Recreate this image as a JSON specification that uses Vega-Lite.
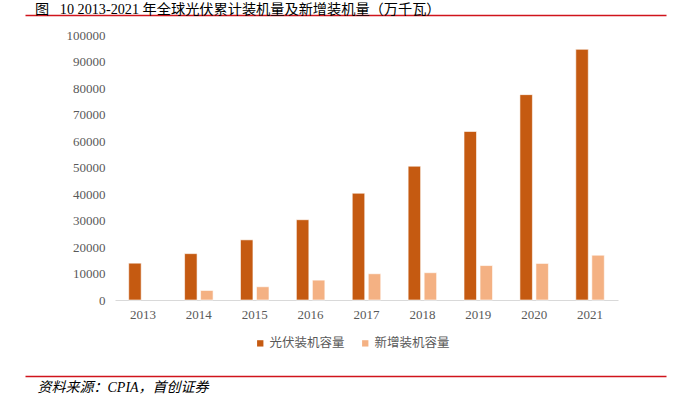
{
  "$schema": "https://vega.github.io/schema/vega-lite/v6.json",
  "width": 641,
  "height": 265,
  "autosize": {"type": "none"},
  "padding": {"left": 25, "top": 35, "right": 7, "bottom": 98},
  "background": "white",
  "config": {"view": {"stroke": null}},
  "title": {
    "text": "图 \u200210 2013-2021 年全球光伏累计装机量及新增装机量（万千瓦）",
    "anchor": "start",
    "frame": "group",
    "dx": 10,
    "offset": -2,
    "font": "Liberation Serif, Noto Sans CJK SC",
    "fontSize": 14.2,
    "fontWeight": "normal",
    "color": "#000000"
  },
  "layer": [
    {
      "data": {
        "values": [
          {"year": "2013", "series": "光伏装机容量", "value": 13900},
          {"year": "2014", "series": "光伏装机容量", "value": 17500},
          {"year": "2015", "series": "光伏装机容量", "value": 22700},
          {"year": "2016", "series": "光伏装机容量", "value": 30300},
          {"year": "2017", "series": "光伏装机容量", "value": 40300},
          {"year": "2018", "series": "光伏装机容量", "value": 50500},
          {"year": "2019", "series": "光伏装机容量", "value": 63600},
          {"year": "2020", "series": "光伏装机容量", "value": 77500},
          {"year": "2021", "series": "光伏装机容量", "value": 94600},
          {"year": "2014", "series": "新增装机容量", "value": 3600},
          {"year": "2015", "series": "新增装机容量", "value": 5000},
          {"year": "2016", "series": "新增装机容量", "value": 7500},
          {"year": "2017", "series": "新增装机容量", "value": 9900},
          {"year": "2018", "series": "新增装机容量", "value": 10300},
          {"year": "2019", "series": "新增装机容量", "value": 13000},
          {"year": "2020", "series": "新增装机容量", "value": 13800},
          {"year": "2021", "series": "新增装机容量", "value": 16900}
        ]
      },
      "mark": {"type": "bar", "stroke": "#ffffff", "strokeWidth": 0.6},
      "encoding": {
        "x": {
          "field": "year",
          "type": "nominal",
          "scale": {"range": [90, 593], "paddingInner": 0.49, "paddingOuter": 0.245},
          "axis": {
            "orient": "bottom",
            "title": null,
            "domain": true,
            "domainColor": "#D9D9D9",
            "domainWidth": 1,
            "ticks": false,
            "grid": false,
            "labelAngle": 0,
            "labelPadding": 8,
            "labelFont": "Liberation Serif",
            "labelFontSize": 13,
            "labelColor": "#595959"
          }
        },
        "xOffset": {
          "field": "series",
          "type": "nominal",
          "sort": ["光伏装机容量", "新增装机容量"],
          "scale": {"paddingInner": 0.22, "paddingOuter": 0}
        },
        "y": {
          "field": "value",
          "type": "quantitative",
          "scale": {"domain": [0, 100000], "nice": false},
          "axis": {
            "orient": "left",
            "offset": -90,
            "title": null,
            "domain": false,
            "ticks": false,
            "grid": false,
            "values": [0, 10000, 20000, 30000, 40000, 50000, 60000, 70000, 80000, 90000, 100000],
            "format": "d",
            "labelPadding": 10,
            "labelFont": "Liberation Serif",
            "labelFontSize": 13,
            "labelColor": "#595959"
          }
        },
        "color": {
          "field": "series",
          "type": "nominal",
          "sort": ["光伏装机容量", "新增装机容量"],
          "scale": {"domain": ["光伏装机容量", "新增装机容量"], "range": ["#C55A11", "#F4B183"]},
          "legend": {
            "orient": "none",
            "legendX": 229,
            "legendY": 302,
            "direction": "horizontal",
            "title": null,
            "symbolType": "square",
            "symbolSize": 40,
            "symbolStrokeWidth": 0,
            "labelFont": "Noto Sans CJK SC",
            "labelFontSize": 12.5,
            "labelColor": "#595959",
            "labelOffset": 3,
            "columnPadding": 14
          }
        }
      }
    },
    {
      "data": {"values": [{"v": 0}]},
      "mark": {"type": "point", "opacity": 0},
      "encoding": {
        "x": {
          "field": "v",
          "type": "quantitative",
          "scale": {"domain": [0, 1]},
          "axis": {
            "orient": "top",
            "offset": 20,
            "title": null,
            "domain": true,
            "domainColor": "#D0141C",
            "domainWidth": 1.5,
            "ticks": false,
            "labels": false,
            "grid": false
          }
        }
      }
    },
    {
      "data": {"values": [{"v": 0}]},
      "mark": {"type": "point", "opacity": 0},
      "encoding": {
        "x": {
          "field": "v",
          "type": "quantitative",
          "scale": {"domain": [0, 1]},
          "axis": {
            "orient": "bottom",
            "offset": 76,
            "title": "资料来源：CPIA，首创证券",
            "titleFont": "Liberation Serif, Noto Sans CJK SC",
            "titleFontSize": 14,
            "titleFontStyle": "italic",
            "titleFontWeight": "normal",
            "titleColor": "#000000",
            "titleAnchor": "start",
            "titleAlign": "left",
            "titleBaseline": "middle",
            "titleX": 12,
            "titleY": 11,
            "domain": true,
            "domainColor": "#D0141C",
            "domainWidth": 1.5,
            "ticks": false,
            "labels": false,
            "grid": false
          }
        }
      }
    }
  ],
  "resolve": {"scale": {"x": "independent"}, "axis": {"x": "independent"}}
}
